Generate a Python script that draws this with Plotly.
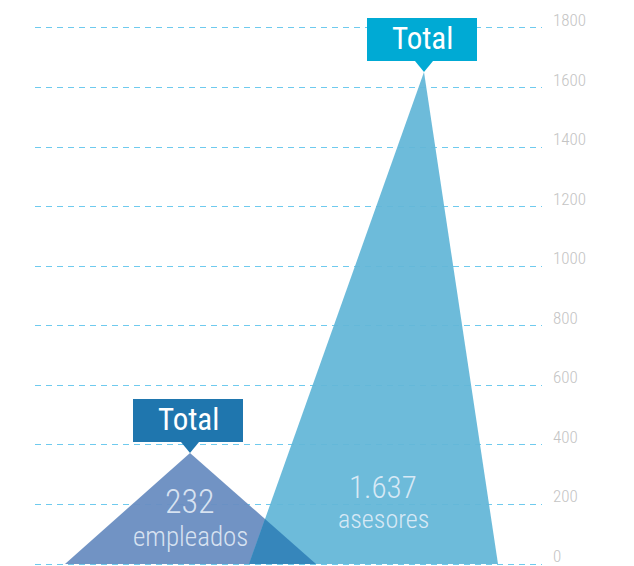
import plotly.graph_objects as go

# ---- data ----
categories = ["empleados", "asesores"]
values = [232, 1637]
value_labels = ["232", "1.637"]
peak_heights = [373, 1652]
box_labels = ["Total", "Total"]
y_ticks = [0, 200, 400, 600, 800, 1000, 1200, 1400, 1600, 1800]

# ---- layout / style constants ----
W, H = 634, 566
M_L, M_R, M_T, M_B = 35, 92, 0, 0
X_RANGE = [35, 542]
Y_RANGE = [-6.7, 1894]
# triangle geometry along the x axis: (left base, peak, right base)
tri_x = [(65, 190, 316), (249, 424, 498)]
fill_colors = ["rgba(105,141,193,0.95)", "rgba(100,183,216,0.94)"]
overlap_color = "rgba(52,132,185,0.95)"
box_colors = ["#1F76AE", "#00AAD4"]
FONT = "Roboto Condensed, Roboto, Liberation Sans Narrow, sans-serif"

plot_h = H - M_T - M_B
u_per_px = (Y_RANGE[1] - Y_RANGE[0]) / plot_h

fig = go.Figure()

# triangles
for (x0, xp, x1), h, c, name in zip(tri_x, peak_heights, fill_colors, categories):
    fig.add_trace(go.Scatter(
        x=[x0, xp, x1, x0], y=[0, h, 0, 0], mode="lines", fill="toself",
        fillcolor=c, line=dict(width=0), hoverinfo="skip", name=name, showlegend=False))

# overlap region: right edge of first triangle vs left edge of second
(ax0, axp, ax1), (bx0, bxp, bx1) = tri_x
ha, hb = peak_heights
sa = ha / (ax1 - axp)
sb = hb / (bxp - bx0)
xi = (sa * ax1 + sb * bx0) / (sa + sb)
yi = sb * (xi - bx0)
fig.add_trace(go.Scatter(
    x=[bx0, xi, ax1, bx0], y=[0, yi, 0, 0], mode="lines", fill="toself",
    fillcolor=overlap_color, line=dict(width=0), hoverinfo="skip", showlegend=False))

shapes = []
annotations = []
# Total callout boxes
BOX_W, BOX_H, PTR_W, PTR_H = 110, 43, 18, 11
for (x0, xp, x1), h, bc, lab in zip(tri_x, peak_heights, box_colors, box_labels):
    cx = xp - 2
    ptr_top = h + PTR_H * u_per_px
    box_top = ptr_top + BOX_H * u_per_px
    shapes.append(dict(type="rect", xref="x", yref="y",
                       x0=cx - BOX_W / 2, x1=cx + BOX_W / 2, y0=ptr_top, y1=box_top,
                       fillcolor=bc, line=dict(width=0), layer="above"))
    shapes.append(dict(type="path", xref="x", yref="y",
                       path=f"M {xp - PTR_W/2} {ptr_top} L {xp + PTR_W/2} {ptr_top} L {xp} {h} Z",
                       fillcolor=bc, line=dict(width=0), layer="above"))
    annotations.append(dict(x=cx, y=(ptr_top + box_top) / 2, xref="x", yref="y",
                            text=lab, showarrow=False, yshift=1,
                            font=dict(family=FONT, size=31, color="white")))

# value labels inside triangles
label_x = [190, 383]
num_y = [211, 258]
word_y = [92, 150]
num_size = [34, 31]
word_size = [27, 26]
TXT = "rgba(235,242,250,0.85)"
for lx, ny, wy, ns, ws, vl, cat in zip(label_x, num_y, word_y, num_size, word_size,
                                       value_labels, categories):
    annotations.append(dict(x=lx, y=ny, xref="x", yref="y", text=vl, showarrow=False,
                            borderpad=0,
                            font=dict(family=FONT, size=ns, color=TXT, weight=300)))
    annotations.append(dict(x=lx, y=wy, xref="x", yref="y", text=cat, showarrow=False,
                            borderpad=0,
                            font=dict(family=FONT, size=ws, color=TXT, weight=300)))

# y-axis tick labels (right side, slightly raised above their grid lines)
for v in y_ticks:
    if v > 0:
        pos = dict(yanchor="middle", yshift=8)
    else:
        pos = dict(yanchor="bottom", yshift=-3)
    annotations.append(dict(x=1, xref="paper", y=v, yref="y", text=str(v),
                            showarrow=False, xanchor="left", xshift=10, borderpad=0,
                            font=dict(family=FONT, size=17, color="#C4C4C4", weight=300),
                            **pos))

fig.update_layout(
    width=W, height=H,
    margin=dict(l=M_L, r=M_R, t=M_T, b=M_B, pad=0),
    paper_bgcolor="white", plot_bgcolor="white",
    shapes=shapes, annotations=annotations, showlegend=False,
    xaxis=dict(range=X_RANGE, showgrid=False, zeroline=False, showticklabels=False,
               showline=False, fixedrange=True),
    yaxis=dict(range=Y_RANGE, side="right", tickvals=y_ticks, showticklabels=False,
               showgrid=True, gridcolor="#6FCAEE", gridwidth=1, griddash="6px,5px",
               zeroline=False, showline=False, ticks="",
               layer="below traces", fixedrange=True),
)

fig.write_html("out.html")
